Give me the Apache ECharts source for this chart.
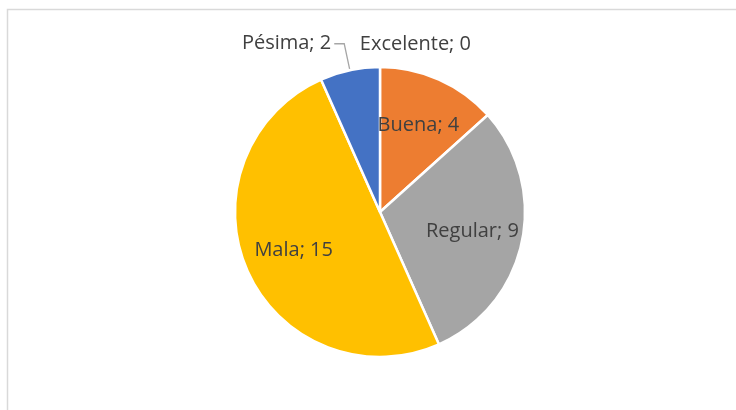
<!DOCTYPE html>
<html lang="es">
<head>
    <meta charset="UTF-8">
    <title></title>
    <script src="https://cdn.jsdelivr.net/npm/echarts@6/dist/echarts.min.js"></script>
    <style>
        html, body { margin: 0; padding: 0; background: #fff; }
        #chart { width: 736px; height: 410px; }
    </style>
</head>
<body>
<div id="chart"></div>
<script>
    /*datos*/
    var categorias = ['Excelente', 'Buena', 'Regular', 'Mala', 'Pésima'];
    var valores = [0, 4, 9, 15, 2];
    var colores = ['#5B9BD5', '#ED7D31', '#A5A5A5', '#FFC000', '#4472C4'];
    var afuera = ['Excelente', 'Pésima'];

    var textoLabel = {
        fontFamily: 'Open Sans',
        fontSize: 20,
        color: '#404040'
    };

    var centro = [380, 212];
    var radio = 145;

    var datosPie = categorias.map(function (c, i) {
        var fuera = afuera.indexOf(c) >= 0;
        return {
            name: c,
            value: valores[i],
            itemStyle: { color: colores[i] },
            label: { show: fuera },
            labelLine: { show: c === 'Pésima' }
        };
    });

    var datosTexto = categorias.map(function (c, i) {
        return {
            name: c,
            value: valores[i],
            label: { show: afuera.indexOf(c) < 0 }
        };
    });

    var option = {
        animation: false,
        graphic: [{
            type: 'rect',
            shape: { x: 7.5, y: 9.5, width: 800, height: 500 },
            style: { fill: 'none', stroke: '#d9d9d9', lineWidth: 1.5 },
            z: -1
        }],
        series: [
            {
                name: 'encuesta',
                type: 'pie',
                center: centro,
                radius: [0, radio],
                startAngle: 90,
                clockwise: true,
                avoidLabelOverlap: false,
                data: datosPie,
                itemStyle: { borderColor: '#fff', borderWidth: 2.5 },
                label: Object.assign({
                    position: 'outside',
                    formatter: '{b}; {c}',
                    distanceToLabelLine: 3
                }, textoLabel),
                labelLine: {
                    length: 27,
                    length2: 10,
                    smooth: false,
                    lineStyle: { color: '#a6a6a6', width: 1.3 }
                },
                labelLayout: function (p) {
                    // Excelente (0) va a la derecha, como en Excel
                    if (p.dataIndex === 0) {
                        return { dx: 104, dy: 4 };
                    }
                    return {};
                },
                emphasis: { disabled: true }
            },
            {
                name: 'textos',
                type: 'pie',
                center: centro,
                radius: [38, radio],
                startAngle: 90,
                clockwise: true,
                silent: true,
                data: datosTexto,
                itemStyle: { color: 'rgba(0,0,0,0)', borderWidth: 0 },
                label: Object.assign({
                    position: 'inside',
                    formatter: '{b}; {c}'
                }, textoLabel),
                labelLine: { show: false },
                emphasis: { disabled: true }
            }
        ]
    };

    var chart = echarts.init(document.getElementById('chart'));
    chart.setOption(option);
</script>
</body>
</html>
